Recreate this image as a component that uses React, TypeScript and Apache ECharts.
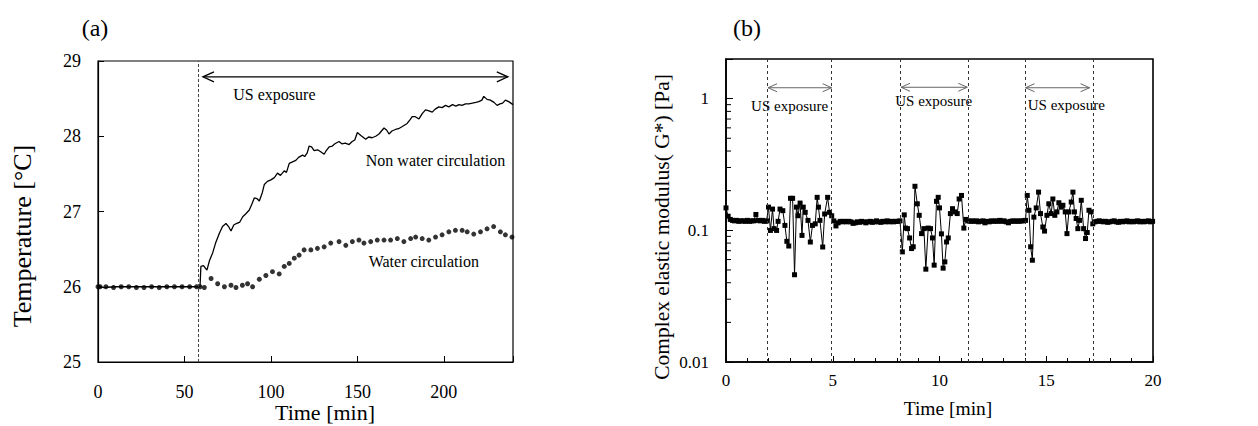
import React, { useEffect, useRef } from 'react';
import * as echarts from 'echarts';

const FONT = 'Liberation Serif';

// ---------- Panel (a): temperature [min, °C] ----------
const nonWaterCirculation: [number, number][] = [
  [0, 26.0], [1, 26.01], [3, 25.99], [10, 26.0], [20, 26.0], [30, 26.0], [40, 26.0], [50, 26.0], [58, 26.0], [59, 26.0],
  [59.5, 26.27], [61, 26.28], [63, 26.22], [64.5, 26.35], [66.3, 26.45], [68, 26.58], [70.2, 26.71], [72, 26.8], [74, 26.84],
  [75.5, 26.8], [76.9, 26.74], [78.5, 26.82], [80, 26.84], [82, 26.86], [83.7, 26.93], [85.5, 26.97], [87.5, 27.02], [89, 27.1],
  [90.4, 27.18], [92, 27.17], [93.3, 27.14], [95, 27.25], [96.2, 27.36], [98, 27.4], [100, 27.42], [102, 27.45], [103.8, 27.51],
  [105.5, 27.48], [107.7, 27.54], [109, 27.52], [110.6, 27.64], [112.5, 27.66], [114.4, 27.68], [116, 27.72], [118.3, 27.75],
  [119.5, 27.73], [121, 27.78], [122.1, 27.87], [123.5, 27.86], [125, 27.81], [127, 27.82], [129, 27.79], [130.8, 27.76],
  [132, 27.81], [133.7, 27.86], [135.5, 27.87], [137, 27.9], [139.4, 27.93], [141, 27.9], [143, 27.91], [145.2, 27.89],
  [147, 27.93], [148.5, 27.95], [150, 28.05], [152, 28.01], [154.8, 27.96], [156.5, 27.99], [158.5, 27.98], [160.6, 28.0],
  [162.5, 28.03], [165.4, 28.11], [167, 28.08], [168.3, 28.03], [170, 28.07], [172, 28.09], [173.8, 28.1], [176, 28.13],
  [178.8, 28.17], [180.5, 28.22], [181.7, 28.26], [183.5, 28.26], [185.6, 28.23], [187.5, 28.3], [189.4, 28.35], [191, 28.34],
  [193.3, 28.32], [195, 28.36], [197.1, 28.39], [199, 28.38], [201, 28.41], [202.9, 28.39], [205, 28.42], [207, 28.4],
  [208.7, 28.42], [210.5, 28.41], [212.5, 28.43], [214.4, 28.43], [216.5, 28.44], [218.5, 28.45], [220.2, 28.46], [222, 28.48],
  [223.1, 28.53], [225, 28.49], [226.9, 28.48], [229, 28.45], [230.8, 28.41], [232.5, 28.43], [234, 28.44], [235.6, 28.48],
  [237.5, 28.46], [240, 28.42],
];

const waterCirculation: [number, number][] = [
  [0, 26.0], [1.2, 26.0], [4.6, 26.0], [9, 25.99], [13.4, 26.0], [17.8, 26.0], [22.2, 25.99], [26.6, 25.99], [31, 26.0],
  [35.4, 25.99], [39.8, 26.0], [44.2, 26.0], [48.6, 26.0], [53, 26.0], [57, 26.0], [59, 26.0], [61.5, 25.99], [65.4, 26.11],
  [69.2, 26.04], [73.1, 26.0], [76.9, 26.02], [79.8, 25.99], [83.5, 26.02], [86.5, 26.04], [89.4, 26.0], [93.3, 26.1],
  [97.1, 26.15], [100.9, 26.2], [104.8, 26.17], [107.7, 26.27], [110.6, 26.31], [113.5, 26.38], [116.3, 26.42], [119.2, 26.49],
  [123.1, 26.49], [126.9, 26.51], [130.8, 26.53], [134.6, 26.58], [139.4, 26.6], [143.3, 26.55], [147.1, 26.6], [150.9, 26.62],
  [153.8, 26.58], [157.7, 26.6], [161.5, 26.62], [165.4, 26.62], [169.2, 26.62], [173.1, 26.64], [176.9, 26.6], [180.8, 26.64],
  [183.7, 26.66], [187.5, 26.64], [191.3, 26.62], [195.2, 26.66], [199, 26.69], [202.9, 26.73], [206.7, 26.75], [210.6, 26.75],
  [213.5, 26.73], [217.3, 26.7], [221.2, 26.73], [225, 26.77], [228.8, 26.8], [232.7, 26.73], [235.6, 26.69], [239.4, 26.66],
];

const exposureStartA = [57.7];
const arrowA: [number, number, number][] = [[60.7, 237, 28.79]];
const labelsA = ['US exposure', 'Non water circulation', 'Water circulation'];
const labelPosA: [number, number][] = [[102, 28.55], [195.2, 27.68], [188.4, 26.33]];

// ---------- Panel (b): complex elastic modulus [min, Pa] ----------
const modulus: [number, number][] = [
  [0, 0.148], [0.1, 0.128], [0.2, 0.121], [0.3, 0.119], [0.4, 0.118], [0.5, 0.119], [0.6, 0.117], [0.7, 0.118], [0.8, 0.118],
  [0.9, 0.117], [1.0, 0.119], [1.1, 0.117], [1.2, 0.118], [1.3, 0.118], [1.4, 0.132], [1.5, 0.119], [1.6, 0.118], [1.7, 0.119],
  [1.8, 0.117], [1.9, 0.118],
  [1.99, 0.15], [2.08, 0.0998], [2.18, 0.145], [2.25, 0.103], [2.37, 0.0998], [2.44, 0.117], [2.53, 0.145], [2.66, 0.141],
  [2.76, 0.109], [2.85, 0.0825], [2.94, 0.076], [3.02, 0.175], [3.12, 0.175], [3.21, 0.046], [3.3, 0.15], [3.37, 0.129],
  [3.47, 0.161], [3.56, 0.0915], [3.62, 0.15], [3.71, 0.137], [3.84, 0.119], [3.95, 0.0815], [4.05, 0.109], [4.18, 0.112],
  [4.27, 0.178], [4.33, 0.15], [4.4, 0.119], [4.53, 0.0747], [4.62, 0.133], [4.76, 0.178], [4.85, 0.137], [4.95, 0.129],
  [5.05, 0.118], [5.15, 0.108], [5.25, 0.114], [5.35, 0.117], [5.45, 0.116], [5.55, 0.117], [5.65, 0.116], [5.75, 0.117],
  [5.85, 0.116], [5.95, 0.113], [6.05, 0.114], [6.15, 0.116], [6.25, 0.115], [6.35, 0.117], [6.45, 0.116], [6.55, 0.114],
  [6.65, 0.116], [6.75, 0.117], [6.85, 0.115], [6.95, 0.116], [7.05, 0.118], [7.15, 0.116], [7.25, 0.115], [7.35, 0.117],
  [7.45, 0.116], [7.55, 0.118], [7.65, 0.116], [7.75, 0.117], [7.85, 0.116], [7.95, 0.117], [8.05, 0.117], [8.15, 0.118],
  [8.26, 0.0686], [8.35, 0.131], [8.41, 0.104], [8.5, 0.103], [8.6, 0.0875], [8.69, 0.0727], [8.77, 0.075], [8.85, 0.216],
  [8.96, 0.159], [9.05, 0.13], [9.16, 0.0944], [9.27, 0.103], [9.36, 0.0507], [9.47, 0.104], [9.58, 0.103], [9.67, 0.0875],
  [9.75, 0.0544], [9.86, 0.166], [9.94, 0.178], [10.0, 0.148], [10.09, 0.094], [10.17, 0.0516], [10.25, 0.0576], [10.33, 0.0816],
  [10.41, 0.0875], [10.51, 0.134], [10.61, 0.146], [10.72, 0.138], [10.83, 0.134], [10.92, 0.173], [11.03, 0.184], [11.14, 0.104],
  [11.23, 0.121],
  [11.33, 0.118], [11.43, 0.117], [11.53, 0.118], [11.63, 0.117], [11.73, 0.118], [11.83, 0.116], [11.93, 0.117], [12.03, 0.118],
  [12.13, 0.114], [12.23, 0.117], [12.33, 0.116], [12.43, 0.118], [12.53, 0.117], [12.63, 0.118], [12.73, 0.117], [12.83, 0.119],
  [12.93, 0.117], [13.03, 0.118], [13.13, 0.116], [13.23, 0.114], [13.33, 0.117], [13.43, 0.118], [13.53, 0.117], [13.63, 0.118],
  [13.73, 0.117], [13.83, 0.118], [13.93, 0.118],
  [14.03, 0.119], [14.11, 0.184], [14.19, 0.142], [14.27, 0.075], [14.35, 0.0593], [14.42, 0.126], [14.53, 0.148], [14.64, 0.195],
  [14.73, 0.134], [14.84, 0.106], [14.92, 0.0987], [15.03, 0.13], [15.12, 0.159], [15.23, 0.134], [15.31, 0.173], [15.4, 0.13],
  [15.5, 0.138], [15.59, 0.162], [15.7, 0.15], [15.78, 0.155], [15.89, 0.138], [15.97, 0.0944], [16.06, 0.138], [16.17, 0.164],
  [16.25, 0.195], [16.32, 0.138], [16.4, 0.123], [16.48, 0.103], [16.56, 0.119], [16.64, 0.169], [16.75, 0.103], [16.84, 0.0866],
  [16.92, 0.0963], [17.0, 0.142], [17.1, 0.138], [17.18, 0.112],
  [17.28, 0.116], [17.38, 0.117], [17.48, 0.118], [17.58, 0.117], [17.68, 0.116], [17.78, 0.117], [17.88, 0.115], [17.98, 0.116],
  [18.08, 0.117], [18.18, 0.118], [18.28, 0.116], [18.38, 0.115], [18.48, 0.117], [18.58, 0.116], [18.68, 0.117], [18.78, 0.118],
  [18.88, 0.116], [18.98, 0.117], [19.08, 0.116], [19.18, 0.117], [19.28, 0.118], [19.38, 0.116], [19.48, 0.117], [19.58, 0.116],
  [19.68, 0.117], [19.78, 0.118], [19.88, 0.116], [19.98, 0.117],
];

const exposureBoundsB = [1.95, 4.95, 8.18, 11.34, 14.03, 17.18];
const arrowsB: [number, number, number][] = [[1.97, 4.95, 1.21], [8.2, 11.3, 1.22], [14.03, 17.03, 1.21]];
const labelsB = ['US exposure', 'US exposure', 'US exposure'];
const labelPosB: [number, number][] = [[2.98, 0.88], [9.73, 0.96], [15.94, 0.89]];
const logMinorTicks = [0.02, 0.03, 0.04, 0.05, 0.06, 0.07, 0.08, 0.09, 0.2, 0.3, 0.4, 0.5, 0.6, 0.7, 0.8, 0.9];

function arrowRenderer(color: string, width: number, headLen: number, headHalf: number) {
  return (params: any, api: any) => {
    const y = api.value(2);
    const p1 = api.coord([api.value(0), y]);
    const p2 = api.coord([api.value(1), y]);
    const style = { stroke: color, lineWidth: width, fill: 'none' };
    return {
      type: 'group',
      children: [
        { type: 'line', shape: { x1: p1[0], y1: p1[1], x2: p2[0], y2: p2[1] }, style },
        { type: 'polyline', shape: { points: [[p1[0] + headLen, p1[1] - headHalf], [p1[0], p1[1]], [p1[0] + headLen, p1[1] + headHalf]] }, style },
        { type: 'polyline', shape: { points: [[p2[0] - headLen, p2[1] - headHalf], [p2[0], p2[1]], [p2[0] - headLen, p2[1] + headHalf]] }, style },
      ],
    };
  };
}

function textRenderer(labels: string[], fontSize: number) {
  return (params: any, api: any) => {
    const p = api.coord([api.value(0), api.value(1)]);
    return {
      type: 'text',
      x: p[0],
      y: p[1],
      style: { text: labels[params.dataIndex], fontSize, fontFamily: FONT, fill: '#000', align: 'center', verticalAlign: 'middle' },
    };
  };
}

function titleText(text: string, x: number, y: number, fontSize: number, vertical = false) {
  return {
    type: 'text', x, y, rotation: vertical ? Math.PI / 2 : 0,
    style: { text, fontSize, fontFamily: FONT, fill: '#000', align: 'center', verticalAlign: 'middle' },
  };
}

const axisCommon = {
  axisLine: { lineStyle: { color: '#000', width: 1.2 } },
  axisTick: { inside: true, length: 6, lineStyle: { color: '#000' } },
  splitLine: { show: false },
};

export default function App() {
  const ref = useRef<HTMLDivElement>(null);
  useEffect(() => {
    document.body.style.margin = '0';
    const chart = echarts.init(ref.current!, null, { renderer: 'svg' });
    const option: any = {
      animation: false,
      textStyle: { fontFamily: FONT, color: '#000' },
      grid: [
        { left: 98, top: 61, width: 415, height: 301, show: true, borderColor: '#000', borderWidth: 1.2, backgroundColor: 'transparent' },
        { left: 726, top: 59, width: 427, height: 303, show: true, borderColor: '#000', borderWidth: 1.6, backgroundColor: 'transparent' },
      ],
      graphic: [
        titleText('(a)', 95, 28, 24),
        titleText('(b)', 747, 28, 24),
        titleText('Temperature [°C]', 22, 236, 26, true),
        titleText('Time [min]', 325, 412, 22),
        titleText('Complex elastic modulus( G*) [Pa]', 662, 227, 21.5, true),
        titleText('Time [min]', 948, 408, 19.5),
      ],
      xAxis: [
        {
          ...axisCommon, type: 'value', gridIndex: 0, min: 0, max: 240, interval: 50,
          axisLabel: { fontSize: 18, color: '#000', margin: 21, fontFamily: FONT, formatter: (v: number) => (v % 50 === 0 ? String(v) : '') },
        },
        {
          ...axisCommon, type: 'value', gridIndex: 1, min: 0, max: 20, interval: 5,
          axisLine: { lineStyle: { color: '#000', width: 1.6 } },
          minorTick: { show: true, splitNumber: 5, length: 4, lineStyle: { color: '#000' } },
          axisLabel: { fontSize: 17, color: '#000', margin: 10, fontFamily: FONT },
        },
      ],
      yAxis: [
        {
          ...axisCommon, type: 'value', gridIndex: 0, min: 25, max: 29, interval: 1,
          axisLabel: { fontSize: 18, color: '#000', margin: 17, fontFamily: FONT },
        },
        {
          ...axisCommon, type: 'log', logBase: 10, gridIndex: 1, min: 0.01, max: 2, interval: 1,
          axisLine: { lineStyle: { color: '#000', width: 1.6 } },
          axisTick: { inside: true, length: 7, lineStyle: { color: '#000' } },
          axisLabel: {
            fontSize: 17, color: '#000', margin: 17, fontFamily: FONT,
            formatter: (v: number) => {
              const l = Math.log10(v);
              return Math.abs(l - Math.round(l)) < 1e-6 ? String(+v.toPrecision(2)) : '';
            },
          },
        },
      ],
      series: [
        {
          name: 'Non water circulation', type: 'line', xAxisIndex: 0, yAxisIndex: 0, data: nonWaterCirculation,
          symbol: 'none', lineStyle: { color: '#000', width: 1.3 }, z: 3,
          markLine: {
            silent: true, symbol: ['none', 'none'], label: { show: false },
            lineStyle: { color: '#444', type: [3, 2], width: 1 },
            data: exposureStartA.map((x) => ({ xAxis: x })),
          },
        },
        {
          name: 'Water circulation', type: 'scatter', xAxisIndex: 0, yAxisIndex: 0, data: waterCirculation,
          symbol: 'circle', symbolSize: 5, itemStyle: { color: '#000' }, z: 4,
        },
        {
          type: 'custom', xAxisIndex: 0, yAxisIndex: 0, data: arrowA, encode: { x: [0, 1], y: 2 },
          renderItem: arrowRenderer('#000', 1.3, 11, 5), silent: true,
        },
        {
          type: 'custom', xAxisIndex: 0, yAxisIndex: 0, data: labelPosA,
          renderItem: textRenderer(labelsA, 16), silent: true,
        },
        {
          name: 'G*', type: 'line', xAxisIndex: 1, yAxisIndex: 1, data: modulus,
          symbol: 'rect', symbolSize: 5, showSymbol: true, showAllSymbol: true,
          lineStyle: { color: '#000', width: 1 }, itemStyle: { color: '#000' }, z: 3,
          markLine: {
            silent: true, symbol: ['none', 'none'], label: { show: false },
            lineStyle: { color: '#333', type: [3, 3], width: 1 },
            data: exposureBoundsB.map((x) => ({ xAxis: x })),
          },
        },
        {
          type: 'custom', xAxisIndex: 1, yAxisIndex: 1, data: arrowsB, encode: { x: [0, 1], y: 2 },
          renderItem: arrowRenderer('#666', 1, 9, 4), silent: true,
        },
        {
          type: 'custom', xAxisIndex: 1, yAxisIndex: 1, data: labelPosB,
          renderItem: textRenderer(labelsB, 15), silent: true,
        },
        {
          type: 'custom', xAxisIndex: 1, yAxisIndex: 1, data: logMinorTicks.map((v) => [0, v]),
          renderItem: (params: any, api: any) => {
            const p = api.coord([api.value(0), api.value(1)]);
            return { type: 'line', shape: { x1: p[0], y1: p[1], x2: p[0] + 5, y2: p[1] }, style: { stroke: '#000', lineWidth: 1 } };
          },
          silent: true, z: 5,
        },
      ],
    };
    chart.setOption(option);
    return () => chart.dispose();
  }, []);
  return <div ref={ref} style={{ width: 1258, height: 426 }} />;
}
